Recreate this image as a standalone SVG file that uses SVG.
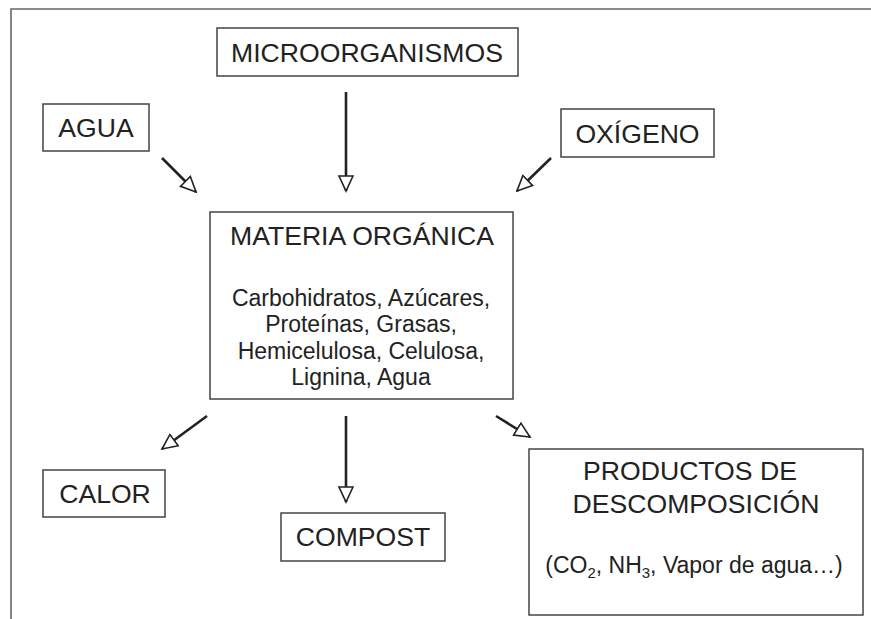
<svg xmlns="http://www.w3.org/2000/svg" width="871" height="619" viewBox="0 0 871 619">
<style>
.box{fill:#fff;stroke:#444;stroke-width:1.5}
.t{font-family:"Liberation Sans",Arial,sans-serif;fill:#222;text-anchor:middle}
.big{font-size:26.6px}
.small{font-size:23px}
.c{stroke:#222;stroke-width:2.6;fill:none;marker-end:url(#ah)}
</style>
<defs>
<marker id="ah" markerUnits="userSpaceOnUse" markerWidth="20" markerHeight="18" refX="16" refY="8" orient="auto" viewBox="0 0 20 18">
<path d="M1,1 L16,8 L1,15 Z" fill="#fff" stroke="#222" stroke-width="1.6" stroke-linejoin="miter"/>
</marker>
</defs>
<rect width="871" height="619" fill="#fff"/>
<path d="M871,9 L11,9 L11,619" fill="none" stroke="#666" stroke-width="1.6"/>
<g id="microorganismos"><rect class="box" x="217" y="28" width="301" height="48"/><text class="t big" x="367" y="62">MICROORGANISMOS</text></g>
<g id="agua"><rect class="box" x="43" y="104" width="106" height="47"/><text class="t big" x="96" y="137">AGUA</text></g>
<g id="oxigeno"><rect class="box" x="561" y="109" width="153" height="48"/><text class="t big" x="637.5" y="143">OXÍGENO</text></g>
<g id="materia"><rect class="box" x="210" y="212" width="303" height="187"/>
<text class="t big" x="362" y="245">MATERIA ORGÁNICA</text>
<text class="t small" x="361" y="306">Carbohidratos, Azúcares,</text>
<text class="t small" x="361" y="332">Proteínas, Grasas,</text>
<text class="t small" x="361" y="359">Hemicelulosa, Celulosa,</text>
<text class="t small" x="361" y="385">Lignina, Agua</text></g>
<g id="calor"><rect class="box" x="43" y="470" width="122" height="47"/><text class="t big" x="105" y="503">CALOR</text></g>
<g id="compost"><rect class="box" x="281" y="513" width="164" height="48"/><text class="t big" x="363" y="546">COMPOST</text></g>
<g id="productos"><rect class="box" x="529" y="449" width="334" height="166"/>
<text class="t big" x="690" y="480">PRODUCTOS DE</text>
<text class="t big" x="696" y="513">DESCOMPOSICIÓN</text>
<text class="t small" x="694" y="573">(CO<tspan font-size="15" dy="5">2</tspan><tspan dy="-5">, NH</tspan><tspan font-size="15" dy="5">3</tspan><tspan dy="-5">, Vapor de agua…)</tspan></text></g>
<g id="connectors">
<line class="c" x1="162" y1="158" x2="196" y2="192"/>
<line class="c" x1="346" y1="92" x2="346" y2="191"/>
<line class="c" x1="551" y1="158" x2="517" y2="191"/>
<line class="c" x1="207" y1="416" x2="162" y2="449"/>
<line class="c" x1="346" y1="416" x2="346" y2="502"/>
<line class="c" x1="496" y1="416" x2="530" y2="437"/>
</g>
</svg>
